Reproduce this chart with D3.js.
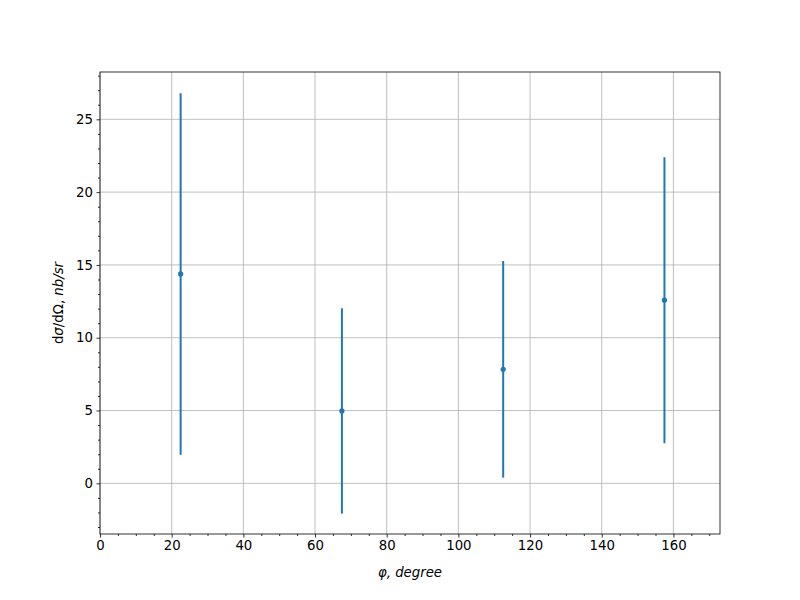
<!DOCTYPE html>
<html><head><meta charset="utf-8">
<script src="https://cdn.jsdelivr.net/npm/d3@7"></script>
<style>body{margin:0;background:#fff}svg{display:block}text{font-family:"DejaVu Sans",sans-serif}</style>
</head><body>
<svg id="chart" width="800" height="600"></svg>
<script>
const phi = [22.5, 67.5, 112.5, 157.5];
const sigma = [14.38, 4.97, 7.83, 12.58];
const err = [12.41, 7.05, 7.44, 9.82];
const xTicks = [0, 20, 40, 60, 80, 100, 120, 140, 160];
const yTicks = [0, 5, 10, 15, 20, 25];

const svg = d3.select("#chart");
const L = 100, R = 720, T = 72, B = 534;
const x = d3.scaleLinear().domain([0, 173.0]).range([L, R]);
const y = d3.scaleLinear().domain([-3.48, 28.25]).range([B, T]);

// grid
const g = svg.append("g");
g.selectAll(".gx").data(xTicks).join("line")
  .attr("x1", d => x(d)).attr("x2", d => x(d)).attr("y1", T).attr("y2", B)
  .attr("stroke", "#b0b0b0").attr("stroke-width", 0.8);
g.selectAll(".gy").data(yTicks).join("line")
  .attr("y1", d => y(d)).attr("y2", d => y(d)).attr("x1", L).attr("x2", R)
  .attr("stroke", "#b0b0b0").attr("stroke-width", 0.8);

// axes
const xMinor = d3.range(0, 173, 5).filter(v => v % 20 !== 0);
const yMinor = d3.range(-3, 29, 1).filter(v => v % 5 !== 0);
const xAxis = d3.axisBottom(x).tickValues(xTicks).tickFormat(d3.format("d")).tickSize(3.5).tickPadding(3.5);
const yAxis = d3.axisLeft(y).tickValues(yTicks).tickFormat(d3.format("d")).tickSize(3.5).tickPadding(3.5);
const ax = svg.append("g").attr("transform", `translate(0,${B})`).call(xAxis);
const ay = svg.append("g").attr("transform", `translate(${L},0)`).call(yAxis);
svg.append("g").attr("transform", `translate(0,${B})`)
  .call(d3.axisBottom(x).tickValues(xMinor).tickFormat("").tickSize(2)).select(".domain").remove();
svg.append("g").attr("transform", `translate(${L},0)`)
  .call(d3.axisLeft(y).tickValues(yMinor).tickFormat("").tickSize(2)).select(".domain").remove();
[ax, ay].forEach(a => {
  a.select(".domain").remove();
  a.selectAll("text").attr("font-size", 13.3).attr("fill", "#000").attr("font-family", "DejaVu Sans");
  a.selectAll("line").attr("stroke", "#000").attr("stroke-width", 0.8);
});
svg.selectAll(".tick line").attr("stroke", "#000").attr("stroke-width", 0.8);

// frame
svg.append("rect").attr("x", L).attr("y", T).attr("width", R - L).attr("height", B - T)
  .attr("fill", "none").attr("stroke", "#000").attr("stroke-width", 0.8);

// error bars
const c = "#1f77b4";
svg.append("g").selectAll("line").data(phi).join("line")
  .attr("x1", (d) => x(d)).attr("x2", d => x(d))
  .attr("y1", (d, i) => y(sigma[i] - err[i])).attr("y2", (d, i) => y(sigma[i] + err[i]))
  .attr("stroke", c).attr("stroke-width", 2);
svg.append("g").selectAll("circle").data(phi).join("circle")
  .attr("cx", d => x(d)).attr("cy", (d, i) => y(sigma[i])).attr("r", 2.6).attr("fill", c);

// labels
svg.append("text").attr("x", (L + R) / 2).attr("y", 577).attr("text-anchor", "middle")
  .attr("font-size", 13.3).attr("font-style", "italic").text("φ, degree");
const yl = svg.append("text").attr("transform", `translate(63,${(T + B) / 2}) rotate(-90)`)
  .attr("text-anchor", "middle").attr("font-size", 13.3);
yl.append("tspan").text("d");
yl.append("tspan").attr("font-style", "italic").text("σ");
yl.append("tspan").text("/dΩ, ");
yl.append("tspan").attr("font-style", "italic").text("nb/sr");
</script>
</body></html>
